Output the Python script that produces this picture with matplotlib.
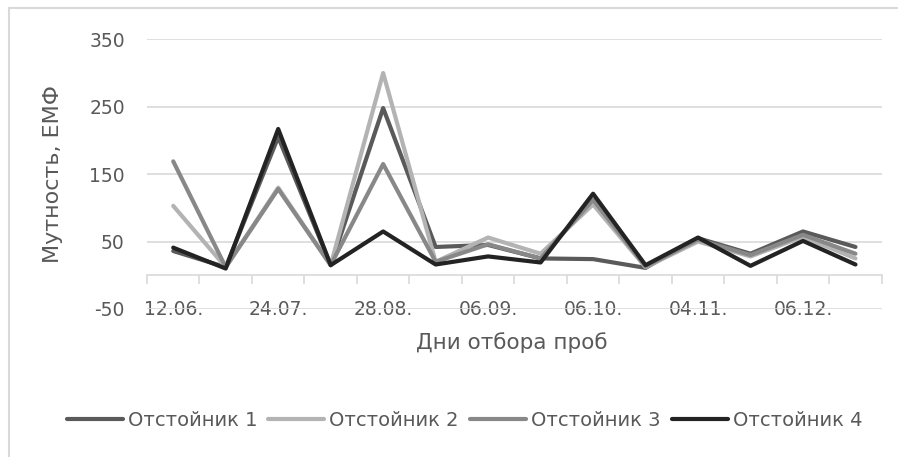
import matplotlib
matplotlib.use("Agg")
import matplotlib.pyplot as plt
from matplotlib.patches import Rectangle

# dates of sampling (Excel only shows every other label)
dates = ['12.06.', '', '24.07.', '', '28.08.', '', '06.09.', '',
         '06.10.', '', '04.11.', '', '06.12.', '']

s1 = [36, 12, 205, 15, 248, 42, 45, 25, 24, 11, 55, 32, 65, 42]
s2 = [103, 12, 130, 15, 300, 20, 56, 32, 105, 12, 50, 28, 57, 25]
s3 = [169, 12, 128, 15, 165, 20, 46, 25, 112, 13, 53, 30, 60, 32]
s4 = [41, 10, 217, 15, 65, 16, 28, 19, 121, 15, 56, 14, 51, 16]

names = ['Отстойник 1', 'Отстойник 2', 'Отстойник 3', 'Отстойник 4']
colors = ['#5a5a5a', '#b3b3b3', '#888888', '#232323']
yticks = [-50, 50, 150, 250, 350]

txt = '#595959'
grid = '#d9d9d9'

plt.rcParams['font.family'] = ['DejaVu Sans']
plt.rcParams['axes.unicode_minus'] = False

fig = plt.figure(figsize=(8.98, 4.57), dpi=100)
ax = fig.add_axes([147/898, 1-309/457, 734.7/898, 269.7/457])

x = list(range(len(dates)))
for ser, nm, c in zip([s1, s2, s3, s4], names, colors):
    ax.plot(x, ser, color=c, lw=3, label=nm,
            solid_joinstyle='round', solid_capstyle='round')

ax.set_xlim(-0.5, len(dates)-0.5)
ax.set_ylim(-50, 350)
ax.set_yticks(yticks)
ax.grid(axis='y', color=grid, lw=1.2)
ax.set_axisbelow(True)
ax.tick_params(axis='y', length=0, pad=16, labelsize=13.5, labelcolor=txt)

for s in ['left', 'right', 'top']:
    ax.spines[s].set_visible(False)
ax.spines['bottom'].set_position(('data', 0))
ax.spines['bottom'].set_color(grid)
ax.spines['bottom'].set_linewidth(1.2)

# boundaries as major ticks, labels on minor ticks at centers
ax.set_xticks([i - 0.5 for i in range(len(dates)+1)])
ax.set_xticklabels([])
ax.tick_params(axis='x', which='major', length=6.5, width=1.2, color=grid)
ax.set_xticks(x, minor=True)
ax.set_xticklabels(dates, minor=True)
ax.tick_params(axis='x', which='minor', length=0, pad=24.5,
               labelsize=13.5, labelcolor=txt)
for lab in ax.get_xticklabels(minor=True):
    lab.set_va('center')

ax.set_ylabel('Мутность, ЕМФ', fontsize=16, color=txt)
ax.yaxis.set_label_coords(-0.114, 0.5)
ax.set_xlabel('Дни отбора проб', fontsize=15.5, color=txt)
ax.xaxis.set_label_coords(0.497, -0.126)
ax.xaxis.label.set_va('center')

fig.legend(loc='center', bbox_to_anchor=(464.5/898, 1-420/457), ncol=4,
           frameon=False, fontsize=14, labelcolor=txt,
           handlelength=2.88, handletextpad=0.26, columnspacing=0.57)

fig.add_artist(Rectangle((9/898, -0.1), 1.2, 1-8/457+0.1,
                         transform=fig.transFigure, fill=False,
                         ec=grid, lw=1.5))

fig.savefig('out.png', dpi=100)
